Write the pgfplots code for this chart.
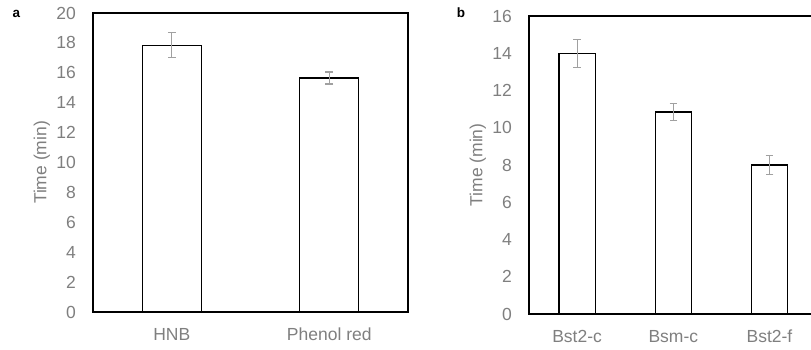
\documentclass[border=0pt]{standalone}
\usepackage{pgfplots}
\pgfplotsset{compat=1.18}
\usepackage{fontspec}
\setmainfont{Liberation Sans}
\definecolor{txtgray}{HTML}{7F7F7F}
\definecolor{errgray}{HTML}{A0A0A0}
\pgfplotsset{
  mybars/.style={
    scale only axis,
    ymin=0,
    xtick=data,
    axis line style={black, line width=1.2pt},
    major tick length=0pt,
    /pgf/number format/assume math mode=true,
    tick label style={font=\fontsize{17.5}{20}\selectfont, text=txtgray, inner sep=0pt},
    yticklabel style={xshift=-17pt},
    xticklabel style={anchor=north, yshift=-16pt},
    label style={font=\fontsize{17.5}{20}\selectfont, text=txtgray},
    ylabel={Time (min)},
    ybar, bar shift=0pt,
  },
  mybar/.style={ybar, fill=white, draw=black, line width=1.2pt,
    error bars/.cd, y dir=both, y explicit,
    error bar style={errgray, line width=1.2pt},
    error mark options={rotate=90, mark size=3.8pt, errgray, line width=1.2pt}},
}
\begin{document}
\begin{tikzpicture}
\clip (0,0) rectangle (811pt,349pt);
\path[use as bounding box] (0,0) rectangle (811pt,349pt);
\node[font=\fontsize{13.5}{15}\selectfont\bfseries, inner sep=0pt] at (16.5pt,335.5pt) {a};
\node[font=\fontsize{13.5}{15}\selectfont\bfseries, inner sep=0pt] at (461pt,336pt) {b};
\begin{axis}[mybars,
  at={(93pt,37pt)}, anchor=south west,
  width=315pt, height=299pt,
  xmin=-0.5, xmax=1.5, ymax=20,
  ytick={0,2,...,20},
  xticklabels={HNB, Phenol red},
  bar width=59pt,
  ylabel style={at={(axis description cs:-0.162,0.5)}, anchor=center},
]
\addplot[mybar] coordinates {
  (0,17.85) +- (0,0.85)
  (1,15.65) +- (0,0.40)
};
\end{axis}
\begin{axis}[mybars,
  at={(529pt,35pt)}, anchor=south west,
  width=288.6pt, height=298pt,
  xmin=-0.5, xmax=2.5, ymax=16,
  ytick={0,2,...,16},
  xticklabels={Bst2-c, Bsm-c, Bst2-f},
  bar width=36.4pt,
  ylabel style={at={(axis description cs:-0.177,0.5)}, anchor=center},
]
\addplot[mybar] coordinates {
  (0,14.0) +- (0,0.75)
  (1,10.85) +- (0,0.47)
  (2,8.0) +- (0,0.50)
};
\end{axis}
\end{tikzpicture}
\end{document}
